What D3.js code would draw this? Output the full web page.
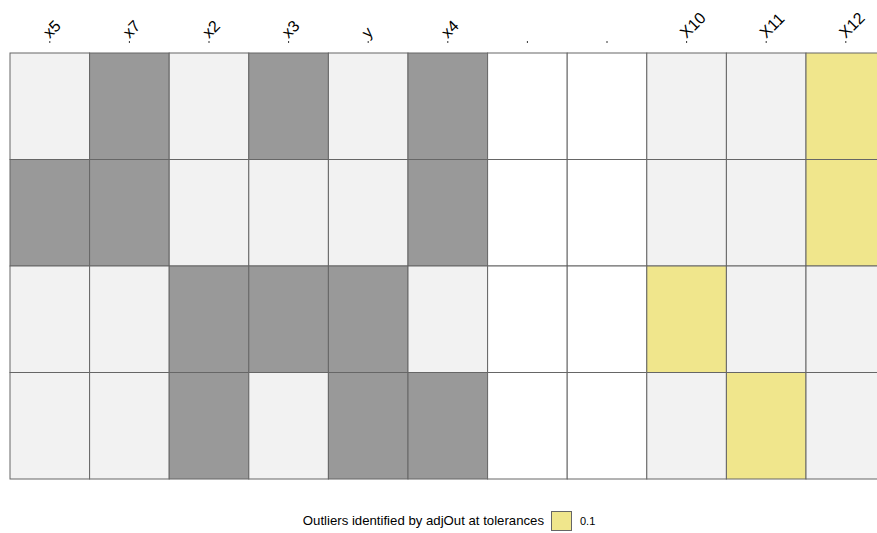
<!DOCTYPE html>
<html>
<head>
<meta charset="utf-8">
<script src="https://cdn.jsdelivr.net/npm/d3@7"></script>
<style>
  html, body { margin: 0; padding: 0; background: #fff; }
  svg { display: block; font-family: "Liberation Sans", Arial, sans-serif; }
</style>
</head>
<body>
<svg id="chart" width="877" height="533"></svg>
<script>
// Column labels (two columns have blank names)
const columns = ["x5", "x7", "x2", "x3", "y", "x4", " ", "  ", "X10", "X11", "X12"];
const rows = [0, 1, 2, 3];

// Cell states per row: "miss" = missing (dark), "obs" = observed (light),
// "blank" = empty column, "out" = outlier at tolerance 0.1
const row1 = ["obs", "miss", "obs", "miss", "obs", "miss", "blank", "blank", "obs", "obs", "out"];
const row2 = ["miss", "miss", "obs", "obs", "obs", "miss", "blank", "blank", "obs", "obs", "out"];
const row3 = ["obs", "obs", "miss", "miss", "miss", "obs", "blank", "blank", "out", "obs", "obs"];
const row4 = ["obs", "obs", "miss", "obs", "miss", "miss", "blank", "blank", "obs", "out", "obs"];
const cellRows = [row1, row2, row3, row4];

const legendTitle = "Outliers identified by adjOut at tolerances";
const legendLabels = ["0.1"];

const fillFor = {
  obs: "#f2f2f2",
  miss: "#999999",
  blank: "#ffffff",
  out: "#f0e68c"
};

const svg = d3.select("#chart");
const gridLeft = 10, gridTop = 53, cellW = 79.6, cellH = 106.5;

const x = d3.scaleBand()
  .domain(d3.range(columns.length))
  .range([gridLeft, gridLeft + cellW * columns.length]);
const y = d3.scaleBand()
  .domain(rows)
  .range([gridTop, gridTop + cellH * rows.length]);

const cells = [];
cellRows.forEach((r, ri) => r.forEach((v, ci) => cells.push({ r: ri, c: ci, v })));

svg.append("g")
  .selectAll("rect")
  .data(cells)
  .join("rect")
  .attr("x", d => x(d.c))
  .attr("y", d => y(d.r))
  .attr("width", x.bandwidth())
  .attr("height", y.bandwidth())
  .attr("fill", d => fillFor[d.v])
  .attr("stroke", "#666666")
  .attr("stroke-width", 1);

// Top axis with rotated column labels
const axis = d3.axisTop(x)
  .tickFormat(i => columns[i])
  .tickSize(2)
  .tickPadding(3);

const ax = svg.append("g")
  .attr("transform", "translate(0,43)")
  .call(axis);
ax.select(".domain").remove();
ax.selectAll(".tick line").attr("stroke", "#333");
ax.selectAll(".tick text")
  .attr("font-size", 16)
  .attr("fill", "#000")
  .attr("text-anchor", "start")
  .attr("dy", null)
  .attr("transform", "translate(-3,-7) rotate(-45)")
  .attr("x", 0)
  .attr("y", 0)
  .attr("dominant-baseline", "middle");

// Legend
const lg = svg.append("g");
lg.append("text")
  .attr("x", 544)
  .attr("y", 525)
  .attr("text-anchor", "end")
  .attr("font-size", 13.2)
  .attr("fill", "#000")
  .text(legendTitle);
legendLabels.forEach((lab, i) => {
  lg.append("rect")
    .attr("x", 551.5)
    .attr("y", 511.5)
    .attr("width", 20)
    .attr("height", 19)
    .attr("fill", fillFor.out)
    .attr("stroke", "#666666");
  lg.append("text")
    .attr("x", 580)
    .attr("y", 525)
    .attr("font-size", 11)
    .attr("fill", "#000")
    .text(lab);
});
</script>
</body>
</html>
